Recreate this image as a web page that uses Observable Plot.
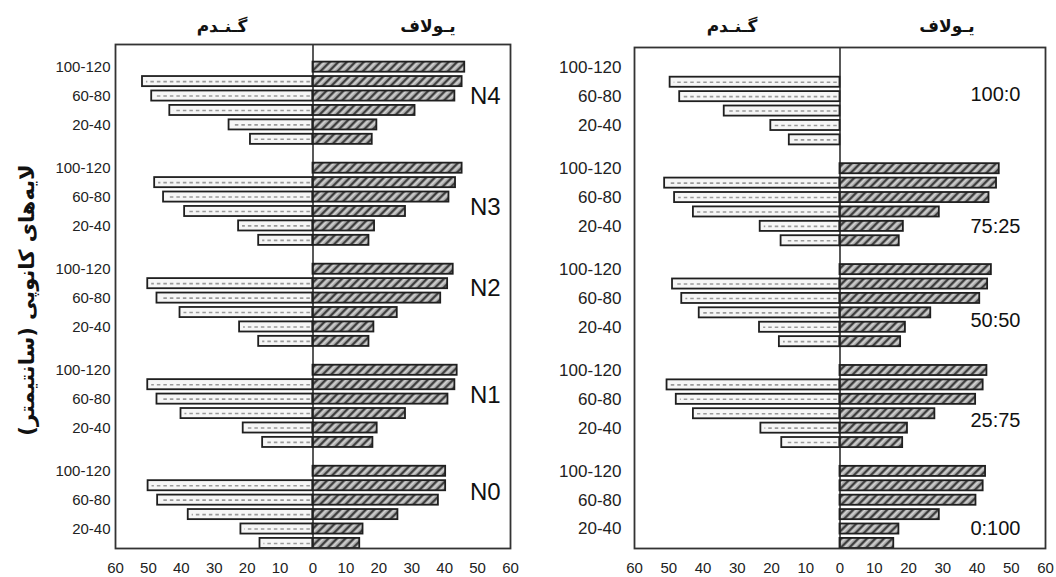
<!DOCTYPE html>
<html>
<head>
<meta charset="utf-8">
<script src="https://cdn.jsdelivr.net/npm/d3@7"></script>
<script src="https://cdn.jsdelivr.net/npm/@observablehq/plot@0.6"></script>
<style>
  html, body { margin: 0; padding: 0; background: #fff; }
  #root { position: relative; width: 1056px; height: 577px; overflow: hidden; background: #fff; }
  .panel { position: absolute; top: 0; }
  .title { position: absolute; font-family: "DejaVu Sans", sans-serif; font-weight: bold; font-size: 17px;
           transform: translate(-50%, -50%); direction: rtl; white-space: nowrap; color: #111; }
  #ytitle { position: absolute; left: 27px; top: 300px; transform: translate(-50%, -50%) rotate(-90deg);
            font-family: "DejaVu Sans", sans-serif; font-weight: bold; font-size: 21px; white-space: nowrap;
            direction: rtl; color: #111; }
</style>
</head>
<body>
<div id="root">
  <svg width="0" height="0" style="position:absolute">
    <defs>
      <pattern id="oatPat" patternUnits="userSpaceOnUse" width="6" height="6" patternTransform="rotate(45)">
        <rect width="6" height="6" fill="#a2a2a2"></rect>
        <rect x="0" y="0" width="2" height="6" fill="#3e3e3e"></rect>
        <rect x="3.2" y="0" width="1.2" height="6" fill="#e2e2e2"></rect>
      </pattern>
    </defs>
  </svg>
  <div id="left" class="panel" style="left:0px"></div>
  <div id="right" class="panel" style="left:530px"></div>
  <div class="title" style="left:222px;top:26px">گـنـدم</div>
  <div class="title" style="left:428px;top:26px">یـولاف</div>
  <div class="title" style="left:732px;top:26px">گـنـدم</div>
  <div class="title" style="left:947px;top:26px">یـولاف</div>
  <div id="ytitle">لایه‌های کانوپی (سانتیمتر)</div>
</div>
<script>
// Canopy layers (cm), bottom to top
const layers = ["0-20", "20-40", "40-60", "60-80", "80-100", "100-120"];
const shownLayers = ["100-120", "60-80", "20-40"];
const xTicks = [-60, -50, -40, -30, -20, -10, 0, 10, 20, 30, 40, 50, 60];

// Left panel: nitrogen levels (top to bottom)
const nitrogenGroups = ["N4", "N3", "N2", "N1", "N0"];
// values per layer, order 0-20 ... 100-120
const nitrogenWheat = [
  [19.0, 25.5, 43.5, 49.0, 51.8, 0],
  [16.5, 22.6, 39.0, 45.4, 48.1, 0],
  [16.5, 22.3, 40.4, 47.4, 50.2, 0],
  [15.3, 21.2, 40.1, 47.4, 50.2, 0],
  [16.1, 21.9, 37.9, 47.2, 50.1, 0]
];
const nitrogenOat = [
  [18.0, 19.4, 31.0, 43.1, 45.3, 46.1],
  [17.0, 18.7, 28.1, 41.3, 43.3, 45.3],
  [17.0, 18.5, 25.6, 38.8, 40.9, 42.6],
  [18.2, 19.5, 28.1, 41.0, 43.1, 43.8],
  [14.2, 15.2, 25.8, 38.1, 40.3, 40.3]
];

// Right panel: wheat:oat mixing ratios (top to bottom)
const ratioGroups = ["100:0", "75:25", "50:50", "25:75", "0:100"];
const ratioWheat = [
  [14.8, 20.2, 33.8, 46.8, 49.6, 0],
  [17.2, 23.3, 42.8, 48.3, 51.2, 0],
  [17.7, 23.5, 41.1, 46.2, 48.9, 0],
  [17.0, 23.1, 42.8, 47.8, 50.5, 0],
  [0, 0, 0, 0, 0, 0]
];
const ratioOat = [
  [0, 0, 0, 0, 0, 0],
  [17.3, 18.5, 29.0, 43.5, 45.7, 46.5],
  [17.7, 19.1, 26.5, 40.8, 43.1, 44.2],
  [18.3, 19.7, 27.7, 39.6, 41.8, 42.9],
  [15.7, 17.2, 29.0, 39.7, 41.8, 42.5]
];

function slotDomain(groups) {
  const d = [];
  groups.forEach(g => {
    d.push("gap|" + g);
    for (const l of [...layers].reverse()) d.push(g + "|" + l);
  });
  return d;
}

function rows(groups, values) {
  const out = [];
  groups.forEach((g, gi) => layers.forEach((l, li) => {
    const v = values[gi][li];
    if (v > 0) out.push({key: g + "|" + l, value: v});
  }));
  return out;
}

function panel(groups, wheat, oat, opts) {
  const domain = slotDomain(groups);
  const wheatRows = rows(groups, wheat);
  const labelMarks = opts.labels.map(([gi, layer, dy]) =>
    Plot.text([groups[gi]], {
      x: opts.labelX, y: () => groups[gi] + "|" + layer, text: d => d,
      textAnchor: "end", dy, fontSize: opts.labelSize, fill: "#111",
      fontFamily: "Liberation Sans"
    })
  );
  return Plot.plot({
    width: opts.width,
    height: 577,
    marginLeft: opts.marginLeft,
    marginRight: opts.marginRight,
    marginTop: opts.marginTop,
    marginBottom: 29,
    style: {fontFamily: "Liberation Sans", fontSize: "15px", color: "#222", background: "transparent", overflow: "visible"},
    x: {domain: [-60, 60]},
    y: {domain, paddingInner: 0.3, paddingOuter: opts.paddingOuter, align: 1, round: false},
    marks: [
      Plot.barX(wheatRows, {x1: 0, x2: d => -d.value, y: "key", fill: "#f6f6f6", stroke: "#1f1f1f", strokeWidth: 1.8}),
      Plot.ruleY(wheatRows, {y: "key", x1: d => -0.8, x2: d => -d.value + 1.2, stroke: "#9a9a9a", strokeWidth: 1.6, strokeDasharray: "3.5,3"}),
      Plot.barX(rows(groups, oat), {x1: 0, x2: "value", y: "key", fill: "url(#oatPat)", stroke: "#1f1f1f", strokeWidth: 1.8}),
      Plot.ruleX([0], {stroke: "#222", strokeWidth: 1.5}),
      Plot.frame({stroke: "#333", strokeWidth: 1.8}),
      Plot.axisY({
        tickSize: 0, tickPadding: opts.yPad, fontSize: opts.yFont, label: null,
        tickFormat: k => { const l = k.split("|")[1]; return shownLayers.includes(l) ? l : ""; }
      }),
      Plot.axisX({ticks: xTicks, tickFormat: d => Math.abs(d), tickSize: 0, tickPadding: 14, fontSize: 15, label: null}),
      ...labelMarks
    ]
  });
}

document.getElementById("left").append(panel(nitrogenGroups, nitrogenWheat, nitrogenOat, {
  width: 530, marginLeft: 115, marginRight: 20, marginTop: 44, paddingOuter: 0.11,
  yPad: 5, yFont: 15, labelX: 57, labelSize: 24,
  labels: [[0, "60-80", 0], [1, "40-60", -4], [2, "80-100", 4.5], [3, "60-80", -4], [4, "80-100", 6.5]]
}));

document.getElementById("right").append(panel(ratioGroups, ratioWheat, ratioOat, {
  width: 526, marginLeft: 104, marginRight: 11, marginTop: 47, paddingOuter: 0.03,
  yPad: 13, yFont: 17, labelX: 52.7, labelSize: 20,
  labels: [[0, "60-80", -2], [1, "20-40", 0], [2, "20-40", -6.5], [3, "20-40", -8], [4, "20-40", 0]]
}));
</script>
</body>
</html>
